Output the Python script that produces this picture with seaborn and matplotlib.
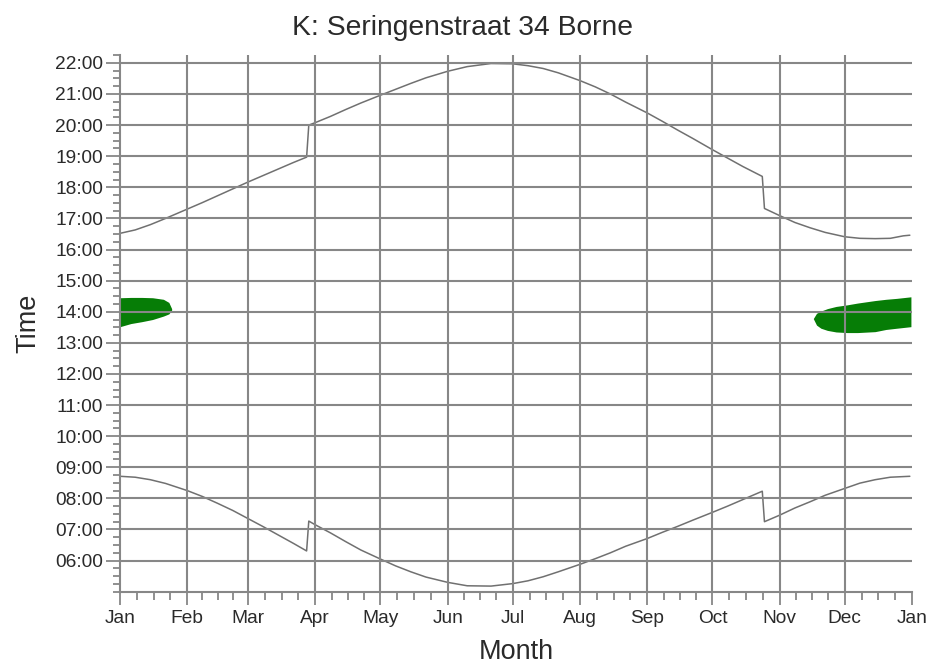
import matplotlib
matplotlib.use("Agg")
import matplotlib.pyplot as plt
import seaborn as sns
import numpy as np
import pandas as pd

# ---------------- data ----------------
title = "K: Seringenstraat 34 Borne"
month_labels = ["Jan", "Feb", "Mar", "Apr", "May", "Jun", "Jul",
                "Aug", "Sep", "Oct", "Nov", "Dec", "Jan"]
month_starts = [0, 31, 59, 90, 120, 151, 181, 212, 243, 273, 304, 334, 365]
hour_ticks = list(range(6, 23))

# day of year (0 = 1 Jan) and times in decimal hours
days = [0, 7, 14, 21, 31, 38, 45, 52, 59, 66, 73, 80, 86, 87, 90, 97,
        104, 111, 120, 127, 134, 141, 151, 160, 171, 181, 188, 195,
        202, 212, 219, 226, 233, 243, 250, 257, 264, 273, 280, 287,
        296, 297, 304, 311, 318, 325, 334, 341, 348, 355, 361, 364]
sunrise = [8.71, 8.68, 8.60, 8.48, 8.25, 8.06, 7.84, 7.61, 7.35, 7.09,
           6.82, 6.55, 6.31, 7.27, 7.15, 6.89, 6.61, 6.34, 6.05, 5.83,
           5.64, 5.47, 5.30, 5.19, 5.18, 5.26, 5.35, 5.48, 5.64, 5.88,
           6.06, 6.25, 6.46, 6.71, 6.91, 7.10, 7.30, 7.55, 7.75, 7.96,
           8.23, 7.25, 7.46, 7.69, 7.89, 8.10, 8.32, 8.49, 8.60, 8.68,
           8.70, 8.71]
sunset = [16.52, 16.63, 16.80, 17.00, 17.30, 17.51, 17.73, 17.95, 18.17,
          18.38, 18.59, 18.80, 18.97, 20.00, 20.08, 20.28, 20.50, 20.71,
          20.96, 21.15, 21.34, 21.52, 21.73, 21.88, 21.98, 21.97, 21.91,
          21.82, 21.68, 21.43, 21.23, 21.00, 20.74, 20.39, 20.12, 19.84,
          19.57, 19.21, 18.94, 18.67, 18.35, 17.32, 17.09, 16.87, 16.70,
          16.55, 16.41, 16.36, 16.35, 16.36, 16.44, 16.46]

# green (shadow) periods
jan_days = [0, 5, 10, 15, 20, 22.5, 23.8]
jan_upper = [14.45, 14.46, 14.46, 14.45, 14.40, 14.30, 14.10]
jan_lower = [13.52, 13.62, 13.68, 13.75, 13.86, 13.93, 14.05]

dec_days = [319.5, 321, 323, 326, 330, 335, 340, 348, 353, 358, 364.5]
dec_upper = [13.78, 13.95, 14.02, 14.10, 14.17, 14.22, 14.28, 14.36, 14.40, 14.43, 14.48]
dec_lower = [13.78, 13.57, 13.47, 13.40, 13.35, 13.33, 13.33, 13.36, 13.43, 13.47, 13.52]

# ---------------- style ----------------
sns.set_style("white")
plt.rcParams["font.family"] = ["Liberation Sans", "DejaVu Sans"]

GRID = "#878787"
LINE = "#707070"
GREEN = "#067d06"
TXT = "#2a2a2a"

fig = plt.figure(figsize=(9.31, 6.64), dpi=100)
ax = fig.add_axes([0.1289, 0.1089, 0.9796 - 0.1289, 0.917 - 0.1089])

df = pd.DataFrame({"day": days, "sunrise": sunrise, "sunset": sunset})
sns.lineplot(data=df, x="day", y="sunrise", ax=ax, color=LINE, lw=1.1,
             sort=False, zorder=2)
sns.lineplot(data=df, x="day", y="sunset", ax=ax, color=LINE, lw=1.1,
             sort=False, zorder=2)

ax.fill_between(jan_days, jan_lower, jan_upper, color=GREEN, lw=0, zorder=1)
ax.fill_between(dec_days, dec_lower, dec_upper, color=GREEN, lw=0, zorder=1)

ax.set_xlim(0, 365)
ax.set_ylim(5, 22.25)

# grid drawn on top of the data
for h in hour_ticks:
    ax.axhline(h, color=GRID, lw=1.5, zorder=3)
for m in month_starts[1:-1]:
    ax.axvline(m, color=GRID, lw=1.5, zorder=3)

# ticks
ax.set_xticks(month_starts)
ax.set_xticklabels(month_labels)
minor_x = []
for a, b in zip(month_starts[:-1], month_starts[1:]):
    minor_x += [a + (b - a) * k / 4 for k in (1, 2, 3)]
ax.set_xticks(minor_x, minor=True)

ax.set_yticks(hour_ticks)
ax.set_yticklabels([f"{h:02d}:00" for h in hour_ticks])
ax.set_yticks(np.arange(5, 22.26, 0.25), minor=True)

ax.tick_params(axis="both", which="both", direction="out", color=GRID,
               width=1.3, labelcolor=TXT)
ax.tick_params(axis="y", which="major", length=10, pad=2, labelsize=13.8,
               left=True)
ax.tick_params(axis="y", which="minor", length=5, left=True)
ax.tick_params(axis="x", which="major", length=9, pad=4, labelsize=13.8,
               bottom=True)
ax.tick_params(axis="x", which="minor", length=5.5, bottom=True)

for s in ("top", "right"):
    ax.spines[s].set_visible(False)
for s in ("left", "bottom"):
    ax.spines[s].set_color(GRID)
    ax.spines[s].set_linewidth(1.5)
    ax.spines[s].set_zorder(4)

ax.set_xlabel("Month", fontsize=19.5, color=TXT, labelpad=9)
ax.set_ylabel("Time", fontsize=19.5, color=TXT, labelpad=10)
fig.text(0.497, 1 - 35 / 664, title, fontsize=20.3, color=TXT,
         ha="center", va="baseline")

fig.savefig("out.png", dpi=100, facecolor="white")
